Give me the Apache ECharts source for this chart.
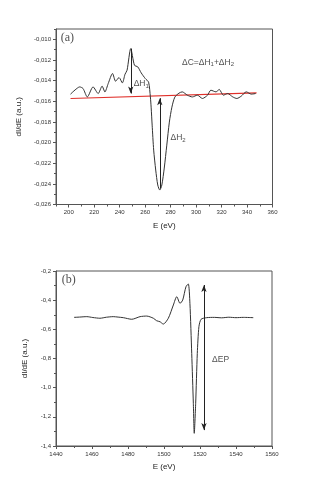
<!DOCTYPE html>
<html><head><meta charset="utf-8">
<script src="https://cdn.jsdelivr.net/npm/echarts@6/dist/echarts.min.js"></script>
<style>html,body{margin:0;padding:0;background:#fff}#c{width:317px;height:488px}</style>
</head><body><div id="c"></div>
<script>
// Panel (a)
const aE = [201.4, 205, 208.6, 211.2, 214.6, 219.1, 223.1, 226.2, 228.4, 231, 234.4, 236.8, 239.5, 242.1, 244.2, 245.8, 248.7, 251.6, 254.2, 256.9, 260.1, 262.7, 264.1, 264.7, 265.5, 266.7, 268.3, 269.9, 271.5, 273.1, 275, 277, 279, 281, 283.3, 286.5, 289.1, 293.1, 297.1, 301, 305, 309, 311.6, 315.6, 318.2, 321.4, 324.8, 328.8, 332, 335.4, 339.4, 343.4, 346.8];
const aY = [-0.01531, -0.01490, -0.01461, -0.01476, -0.01558, -0.01461, -0.01525, -0.01454, -0.01509, -0.01428, -0.01331, -0.01406, -0.01370, -0.01422, -0.01338, -0.01299, -0.01090, -0.01251, -0.01267, -0.01325, -0.01380, -0.01415, -0.01558, -0.01657, -0.01831, -0.02073, -0.02266, -0.02411, -0.02460, -0.02411, -0.02247, -0.02025, -0.01802, -0.01657, -0.01560, -0.01522, -0.01509, -0.01541, -0.01558, -0.01541, -0.01573, -0.01541, -0.01493, -0.01509, -0.01486, -0.01541, -0.01525, -0.01558, -0.01573, -0.01551, -0.01509, -0.01531, -0.01525];
const redE = [201.4, 347.5];
const redY = [-0.01573, -0.01519];
const aXLabels = [200, 220, 240, 260, 280, 300, 320, 340, 360];
const aXMinor = [190, 210, 230, 250, 270, 290, 310, 330, 350];
const aYLabels = [-0.026, -0.024, -0.022, -0.020, -0.018, -0.016, -0.014, -0.012, -0.010];
const aYMinor = [-0.025, -0.023, -0.021, -0.019, -0.017, -0.015, -0.013, -0.011, -0.009];
// arrows [x, yFrom, yTo] (arrowhead at yTo)
const arrowH1 = [248.7, -0.0109, -0.01525];
const arrowH2 = [271.5, -0.02443, -0.0157];
// Panel (b)
const bE = [1450, 1453, 1457.1, 1460.5, 1464.4, 1468, 1471.8, 1474.5, 1477.4, 1482.1, 1486.7, 1490.4, 1494.1, 1495.9, 1497.8, 1499.6, 1502.4, 1505.2, 1507.1, 1508.9, 1510.4, 1512.2, 1513.5, 1514.4, 1515.4, 1516.3, 1516.8, 1517.6, 1518.5, 1519.4, 1520.6, 1523.7, 1528, 1532, 1536, 1540, 1544, 1549.6];
const bY = [-0.518, -0.516, -0.513, -0.519, -0.524, -0.517, -0.513, -0.516, -0.520, -0.531, -0.513, -0.509, -0.524, -0.541, -0.548, -0.564, -0.524, -0.433, -0.376, -0.422, -0.399, -0.308, -0.289, -0.422, -0.765, -1.107, -1.313, -1.107, -0.765, -0.582, -0.531, -0.520, -0.518, -0.521, -0.517, -0.520, -0.518, -0.520];
const bXLabels = [1440, 1460, 1480, 1500, 1520, 1540, 1560];
const bXMinor = [1450, 1470, 1490, 1510, 1530, 1550];
const bYLabels = [-1.4, -1.2, -1.0, -0.8, -0.6, -0.4, -0.2];
const bYMinor = [-1.3, -1.1, -0.9, -0.7, -0.5, -0.3];
const arrowEP = [1522.2, -0.296, -1.291];
// text annotations [x, y, text]
const textsA = [[193.7, -0.0099, '(a)', 'panel'], [251.0, -0.0143, '{t|ΔH}{s|1}', 'note'], [279.9, -0.01957, '{t|ΔH}{s|2}', 'note'], [288.9, -0.01222, '{t|ΔC=ΔH}{s|1}{t|+ΔH}{s|2}', 'note']];
const textsB = [[1443.2, -0.262, '(b)', 'panel'], [1526.7, -0.810, '{t|ΔEP}', 'note']];

const FONT = "'Liberation Sans', Arial, sans-serif";
const AX = '#555';
function fmt(d) { return v => (Math.round(v * Math.pow(10, d)) / Math.pow(10, d)).toFixed(d).replace('.', ','); }

function mainX(grid, min, max, labels) {
  return { type: 'value', gridIndex: grid, min, max, position: 'bottom',
    name: 'E (eV)', nameLocation: 'middle', nameGap: 17,
    nameTextStyle: { fontFamily: FONT, fontSize: 8, color: '#222' },
    axisLine: { show: true, lineStyle: { color: AX, width: 1 } },
    axisTick: { show: true, customValues: labels, length: 3, lineStyle: { color: AX } },
    axisLabel: { customValues: labels, formatter: v => String(Math.round(v)), fontFamily: FONT, fontSize: 6, color: '#333', margin: 5 },
    splitLine: { show: false } };
}
function minorX(grid, min, max, vals) {
  return { type: 'value', gridIndex: grid, min, max, position: 'bottom',
    axisLine: { show: false }, axisLabel: { show: false },
    axisTick: { show: true, customValues: vals, length: 2, lineStyle: { color: AX } },
    splitLine: { show: false } };
}
function mainY(grid, min, max, labels, d) {
  return { type: 'value', gridIndex: grid, min, max, position: 'left',
    name: 'dI/dE (a.u.)', nameLocation: 'middle', nameGap: 27,
    nameTextStyle: { fontFamily: FONT, fontSize: 8, color: '#222' },
    axisLine: { show: true, lineStyle: { color: AX, width: 1 } },
    axisTick: { show: true, customValues: labels, length: 3, lineStyle: { color: AX } },
    axisLabel: { customValues: labels, formatter: fmt(d), fontFamily: FONT, fontSize: 6, color: '#333', margin: 5 },
    splitLine: { show: false } };
}
function minorY(grid, min, max, vals) {
  return { type: 'value', gridIndex: grid, min, max, position: 'left',
    axisLine: { show: false }, axisLabel: { show: false },
    axisTick: { show: true, customValues: vals, length: 2, lineStyle: { color: AX } },
    splitLine: { show: false } };
}
function textSeries(xi, yi, arr) {
  return { type: 'scatter', xAxisIndex: xi, yAxisIndex: yi, symbolSize: 0, silent: true, z: 5,
    data: arr.map(t => ({ value: [t[0], t[1]], label: {
      show: true, position: 'right', distance: 0, formatter: t[2],
      fontFamily: t[3] === 'panel' ? "'Liberation Serif', serif" : FONT,
      fontSize: t[3] === 'panel' ? 12 : 8, color: '#222',
      rich: { t: { fontFamily: FONT, fontSize: 8.5, color: '#222' },
              s: { fontFamily: FONT, fontSize: 6, color: '#222', padding: [5, 0, 0, 0] } } } })) };
}
function arrowLine(a, symbols) {
  return { silent: true, symbol: symbols, symbolSize: [4, 7], label: { show: false },
    lineStyle: { type: 'solid', color: '#222', width: 1 },
    data: [[{ coord: [a[0], a[1]] }, { coord: [a[0], a[2]] }]] };
}

const chart = echarts.init(document.getElementById('c'), null, { renderer: 'canvas' });
chart.setOption({
  animation: false,
  backgroundColor: '#fff',
  grid: [
    { left: 56, top: 29, width: 216.5, height: 175.5, show: true, borderColor: AX, borderWidth: 1, backgroundColor: 'transparent' },
    { left: 56, top: 271, width: 216, height: 175, show: true, borderColor: AX, borderWidth: 1, backgroundColor: 'transparent' }
  ],
  xAxis: [ mainX(0, 190, 360, aXLabels), minorX(0, 190, 360, aXMinor),
           mainX(1, 1440, 1560, bXLabels), minorX(1, 1440, 1560, bXMinor) ],
  yAxis: [ mainY(0, -0.026, -0.009, aYLabels, 3), minorY(0, -0.026, -0.009, aYMinor),
           mainY(1, -1.4, -0.2, bYLabels, 1), minorY(1, -1.4, -0.2, bYMinor) ],
  series: [
    { type: 'line', xAxisIndex: 0, yAxisIndex: 0, data: redE.map((x, i) => [x, redY[i]]),
      showSymbol: false, lineStyle: { color: '#e0302a', width: 1.2 }, silent: true },
    { type: 'line', xAxisIndex: 0, yAxisIndex: 0, data: aE.map((x, i) => [x, aY[i]]),
      showSymbol: false, smooth: 0.25, lineStyle: { color: '#333', width: 1 }, silent: true, z: 3,
      markLine: { ...arrowLine(arrowH1, ['none', 'arrow']) } },
    { type: 'line', xAxisIndex: 0, yAxisIndex: 0, data: [],
      markLine: { ...arrowLine(arrowH2, ['none', 'arrow']) } },
    textSeries(0, 0, textsA),
    { type: 'line', xAxisIndex: 2, yAxisIndex: 2, data: bE.map((x, i) => [x, bY[i]]),
      showSymbol: false, smooth: 0.25, lineStyle: { color: '#333', width: 1 }, silent: true, z: 3,
      markLine: { ...arrowLine(arrowEP, ['arrow', 'arrow']) } },
    textSeries(2, 2, textsB)
  ]
});
</script></body></html>
